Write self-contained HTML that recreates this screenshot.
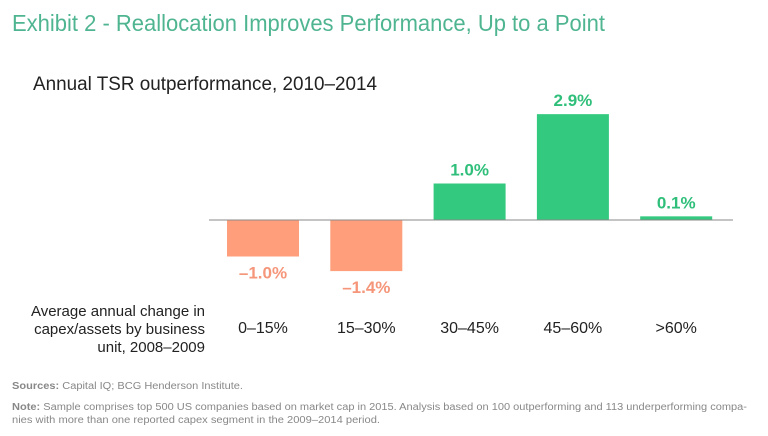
<!DOCTYPE html>
<html><head><meta charset="utf-8"><style>
html,body{margin:0;padding:0;background:#fff;}
svg{display:block;font-family:"Liberation Sans Narrow","Liberation Sans",sans-serif;}
</style></head><body>
<svg id="chart" width="768" height="436" viewBox="0 0 768 436">
<text x="12" y="31" font-size="23" fill="#4fb591" textLength="593" lengthAdjust="spacingAndGlyphs">Exhibit 2 - Reallocation Improves Performance, Up to a Point</text>
<text x="33" y="90" font-size="19" fill="#222" textLength="344" lengthAdjust="spacingAndGlyphs">Annual TSR outperformance, 2010–2014</text>
<g id="bars"></g>
<line x1="209" y1="220" x2="733" y2="220" stroke="#888" stroke-width="1"/>
<g font-size="15" fill="#222" text-anchor="end">
<text x="205" y="316">Average annual change in</text>
<text x="205" y="334">capex/assets by business</text>
<text x="205" y="352">unit, 2008–2009</text>
</g>
<text x="12" y="389" font-size="10" fill="#888" textLength="231" lengthAdjust="spacingAndGlyphs"><tspan font-weight="bold">Sources:</tspan> Capital IQ; BCG Henderson Institute.</text>
<g font-size="10" fill="#888">
<text x="12" y="410" textLength="735" lengthAdjust="spacingAndGlyphs"><tspan font-weight="bold">Note:</tspan> Sample comprises top 500 US companies based on market cap in 2015. Analysis based on 100 outperforming and 113 underperforming compa-</text>
<text x="12" y="423" textLength="368" lengthAdjust="spacingAndGlyphs">nies with more than one reported capex segment in the 2009–2014 period.</text>
</g>
</svg>
<script>
const categories = ["0–15%","15–30%","30–45%","45–60%",">60%"];
const values = [-1.0,-1.4,1.0,2.9,0.1];
const valueLabels = ["–1.0%","–1.4%","1.0%","2.9%","0.1%"];
const NS="http://www.w3.org/2000/svg";
const g=document.getElementById('bars');
const svg=document.getElementById('chart');
const y0=220, pxPer=36.5, x0=227, step=103.3, bw=72;
function yScale(v){return y0 - v*pxPer;}
function xScale(i){return x0 + i*step;}
categories.forEach((c,i)=>{
  const v=values[i], x=xScale(i), y=yScale(v);
  const r=document.createElementNS(NS,'rect');
  r.setAttribute('x',x);r.setAttribute('width',bw);
  r.setAttribute('y',Math.min(y,y0));r.setAttribute('height',Math.abs(y-y0));
  r.setAttribute('fill',v>=0?'#33c97f':'#ff9e7a');
  
  
  g.appendChild(r);
  const t=document.createElementNS(NS,'text');
  t.setAttribute('x',x+bw/2);
  t.setAttribute('y',v>=0?y-8:y+22);
  t.setAttribute('text-anchor','middle');
  t.setAttribute('font-size','17');t.setAttribute('font-weight','bold');
  t.setAttribute('fill',v>=0?'#2fbf7a':'#f5967a');
  t.textContent=valueLabels[i];
  
  
  svg.appendChild(t);
  const l=document.createElementNS(NS,'text');
  l.setAttribute('x',x+bw/2);l.setAttribute('y',333);
  l.setAttribute('text-anchor','middle');l.setAttribute('font-size','16');l.setAttribute('fill','#222');
  l.textContent=c;
  
  
  svg.appendChild(l);
});
</script>
</body></html>
